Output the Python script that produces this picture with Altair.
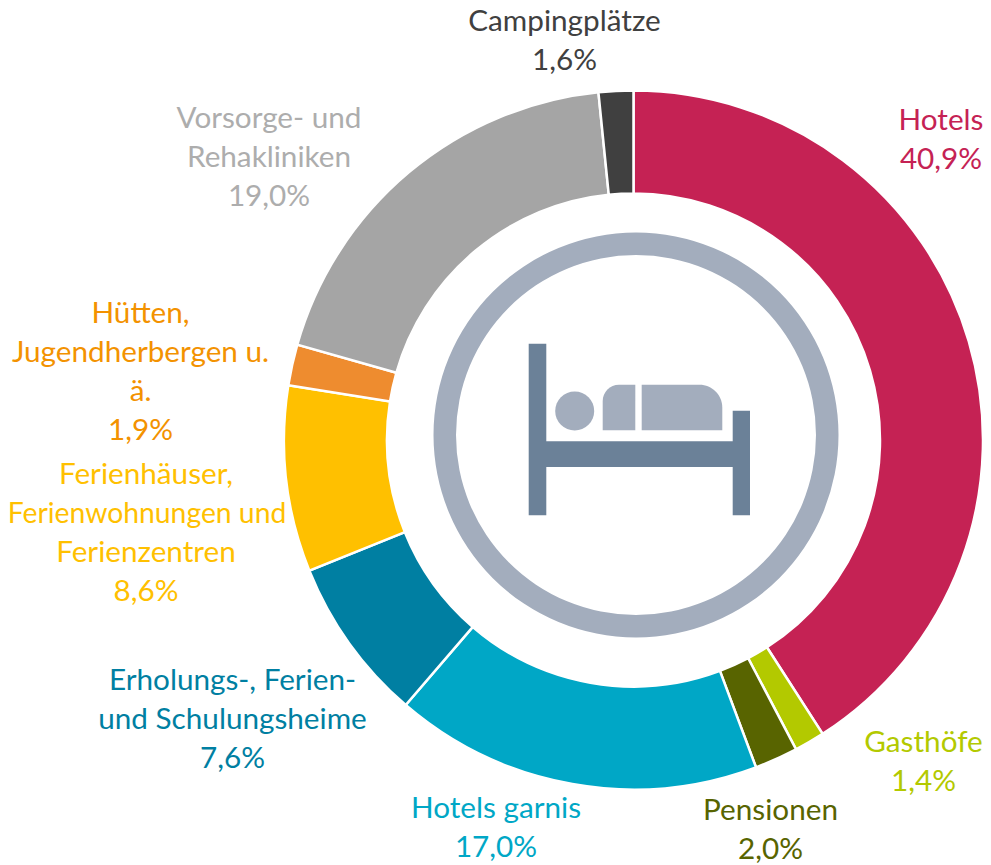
import altair as alt
import pandas as pd

categories = ["Hotels", "Gasthöfe", "Pensionen", "Hotels garnis", "Erholungs-, Ferien- und Schulungsheime",
              "Ferienhäuser, Ferienwohnungen und Ferienzentren", "Hütten, Jugendherbergen u. ä.",
              "Vorsorge- und Rehakliniken", "Campingplätze"]
shares = [40.9, 1.4, 2.0, 17.0, 7.6, 8.6, 1.9, 19.0, 1.6]
slice_colors = ["#C52254", "#B3C900", "#586400", "#00A7C6", "#007FA2", "#FFC000", "#EE8C2F", "#A5A5A5", "#404040"]
text_colors = ["#C52254", "#B3C900", "#586400", "#00A7C6", "#007FA2", "#FFC000", "#F39200", "#ADADAD", "#404040"]
label_lines = [
    ["Hotels", "40,9%"],
    ["Gasthöfe", "1,4%"],
    ["Pensionen", "2,0%"],
    ["Hotels garnis", "17,0%"],
    ["Erholungs-, Ferien-", "und Schulungsheime", "7,6%"],
    ["Ferienhäuser, ", "Ferienwohnungen und", "Ferienzentren", "8,6%"],
    ["Hütten,", "Jugendherbergen u.", "ä.", "1,9%"],
    ["Vorsorge- und", "Rehakliniken", "19,0%"],
    ["Campingplätze", "1,6%"],
]
label_x = [941, 923.5, 770.5, 496, 232.5, 146, 140.5, 269, 564.5]
label_first_y = [130, 752, 820, 818, 690, 484, 323, 128, 31]
line_step = 39
font_size = 29.7
tight_font_size = 28.3  # the one line that would otherwise leave the page on the left

W, H = 975, 857
sx = alt.Scale(domain=[8, 8 + W], range=[0, W])
sy = alt.Scale(domain=[8, 8 + H], range=[0, H])
X = lambda f: alt.X(f, type="quantitative", scale=sx, axis=None)
Y = lambda f: alt.Y(f, type="quantitative", scale=sy, axis=None)

donut_cx, donut_cy = 633.5, 440
slices = pd.DataFrame({"cat": categories, "share": shares, "idx": range(len(shares)), "col": slice_colors})
donut = alt.Chart(slices).mark_arc(radius=349.5, radius2=246.5, stroke="white", strokeWidth=2.5).encode(
    theta=alt.Theta("share:Q", stack=True),
    order=alt.Order("idx:Q"),
    color=alt.Color("col:N", scale=None),
    x=alt.value(donut_cx - 8),
    y=alt.value(donut_cy - 8),
)

rows = []
for lines, x0, y0, c in zip(label_lines, label_x, label_first_y, text_colors):
    for i, t in enumerate(lines):
        tight = t == "Ferienwohnungen und"
        rows.append({"t": t.strip(), "x": x0 + (1 if tight else 0), "y": y0 + i * line_step, "col": c,
                     "fs": tight_font_size if tight else font_size})
labels = alt.Chart(pd.DataFrame(rows)).mark_text(
    font="Lato", align="center", baseline="alphabetic"
).encode(x=X("x"), y=Y("y"), text="t:N", color=alt.Color("col:N", scale=None),
         size=alt.Size("fs:Q", scale=None))

# icon
ring_color = "#A3ADBD"
bed_color = "#6B8198"
FULL = 6.2832
ring = alt.Chart(pd.DataFrame({"x": [636], "y": [435]})).mark_arc(
    radius=202.5, radius2=180, theta=0, theta2=FULL, color=ring_color).encode(x=X("x"), y=Y("y"))

bed_x = [528.7, 732.7, 546]
bed_x2 = [546.3, 750, 733]
bed_y = [343.7, 410.7, 441.3]
bed_y2 = [515.3, 515.3, 467]
bed = alt.Chart(pd.DataFrame({"x": bed_x, "x2": bed_x2, "y": bed_y, "y2": bed_y2})).mark_rect(color=bed_color).encode(
    x=X("x"), x2="x2:Q", y=Y("y"), y2="y2:Q")

arm = alt.Chart(pd.DataFrame({"x": [602.7], "x2": [635.3], "y": [384.7], "y2": [430.3]})).mark_bar(
    color=ring_color, cornerRadiusTopLeft=22).encode(x=X("x"), x2="x2:Q", y=Y("y"), y2="y2:Q")
body = alt.Chart(pd.DataFrame({"x": [641.7], "x2": [722.3], "y": [384.7], "y2": [430.3]})).mark_bar(
    color=ring_color, cornerRadiusTopRight=23).encode(x=X("x"), x2="x2:Q", y=Y("y"), y2="y2:Q")
head = alt.Chart(pd.DataFrame({"x": [574.7], "y": [411]})).mark_arc(
    radius=19.5, theta=0, theta2=FULL, color=ring_color).encode(x=X("x"), y=Y("y"))

chart = alt.layer(donut, ring, bed, arm, body, head, labels).properties(
    width=W, height=H, padding=0, autosize=alt.AutoSizeParams(type="none"), background="white"
).configure_view(stroke=None)

chart.save("out.html", embed_options={"renderer": "svg", "actions": False})
